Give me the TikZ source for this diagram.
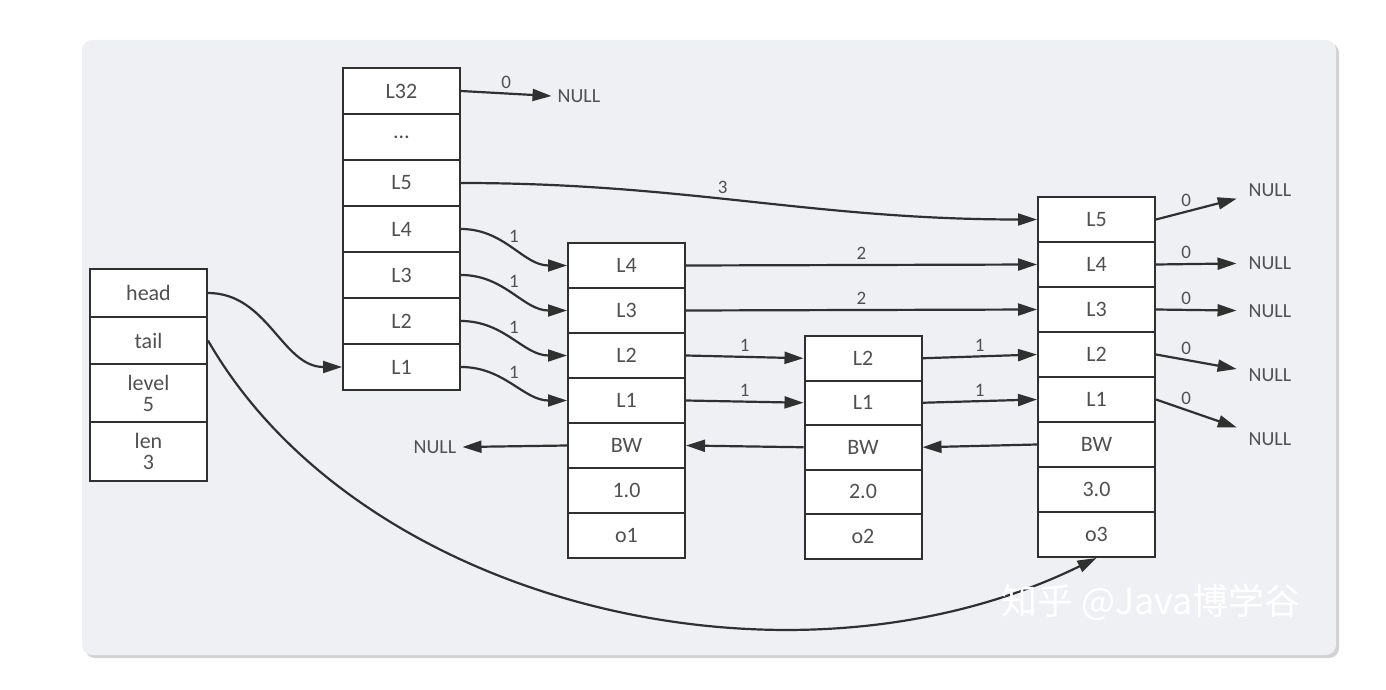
\documentclass[tikz,border=0pt]{standalone}
\usepackage{fontspec}
\setmainfont{Carlito}
\newfontfamily\cjkfont{Noto Sans CJK SC}
\usetikzlibrary{arrows.meta}

\definecolor{panelbg}{RGB}{239,240,244}
\definecolor{linec}{RGB}{48,48,48}
\definecolor{textc}{RGB}{80,80,80}

\tikzset{
  cell/.style={draw=linec, fill=white, line width=2pt, minimum width=117pt,
    minimum height=45pt, inner sep=0pt, text=textc, align=center,
    font=\fontsize{22}{21}\selectfont},
  ptr/.style={draw=linec, line width=2.2pt, -{Triangle[length=19pt,width=12pt]}},
  span/.style={font=\fontsize{19}{20}\selectfont, text=textc, inner sep=4pt},
  nulltxt/.style={font=\fontsize{20}{22}\selectfont, text=textc, inner sep=6pt},
}

\begin{document}
\begin{tikzpicture}[x=1pt, y=-1pt]
\useasboundingbox (0,0) rectangle (1386,690);
\fill[gray!35, rounded corners=10pt] (85,43) rectangle (1339,658);
\fill[panelbg, rounded corners=10pt] (82,40) rectangle (1336,655);

% list header
\node[cell, minimum height=48pt] (head) at (148.5,293) {head};
\node[cell, minimum height=47pt] (tail) at (148.5,340.5) {tail};
\node[cell, minimum height=58pt] (level) at (148.5,393) {level\\5};
\node[cell, minimum height=59pt] (len) at (148.5,451.5) {len\\3};

% header node and the three elements
\foreach \t/\k [count=\i] in {L32/32,{\ldots}/dots,L5/5,L4/4,L3/3,L2/2,L1/1}
  \node[cell, minimum height=46pt] (h\k) at (401.5,45+46*\i) {\t};
\foreach \t/\k [count=\i] in {L4/4,L3/3,L2/2,L1/1,BW/bw,1.0/v,o1/o}
  \node[cell] (n1-\k) at (626.5,220.5+45*\i) {\t};
\foreach \t/\k [count=\i] in {L2/2,L1/1,BW/bw,2.0/v,o2/o}
  \node[cell, minimum height=44.5pt] (n2-\k) at (863,313.75+44.5*\i) {\t};
\foreach \t/\k [count=\i] in {L5/5,L4/4,L3/3,L2/2,L1/1,BW/bw,3.0/v,o3/o}
  \node[cell] (n3-\k) at (1096.5,174.5+45*\i) {\t};

\node[nulltxt] (null32) at (579,96) {NULL};
\node[nulltxt] (nullbw) at (435,447) {NULL};

% forward pointers
\draw[ptr] (h32.east) -- node[span, above] {0} (null32.west);
\draw[ptr] (h5.east) to[out=0, in=180] node[span, above, pos=0.45] {3} (n3-5.west);
\foreach \k in {4,3,2,1}
  \draw[ptr] (h\k.east) to[out=0, in=180] node[span, above] {1} (n1-\k.west);
\draw[ptr] (head.east) to[out=0, in=180] (h1.west);
\draw[ptr] (n1-4.east) -- node[span, above] {2} (n3-4.west);
\draw[ptr] (n1-3.east) -- node[span, above] {2} (n3-3.west);
\foreach \k in {2,1} {
  \draw[ptr] (n1-\k.east) -- node[span, above] {1} (n2-\k.west);
  \draw[ptr] (n2-\k.east) -- node[span, above] {1} (n3-\k.west);
}
\foreach \k/\y in {5/190,4/263,3/311,2/375,1/439} {
  \node[nulltxt] (nl\k) at (1270,\y) {NULL};
  \draw[ptr, shorten >=6pt] (n3-\k.east) -- node[span, above, pos=0.35] {0} (nl\k);
}

% backward pointers
\draw[ptr] (n3-bw.west) -- (n2-bw.east);
\draw[ptr] (n2-bw.west) -- (n1-bw.east);
\draw[ptr] (n1-bw.west) -- (nullbw.east);

\draw[ptr] (tail.east) .. controls (360,605) and (790,708) .. (n3-o.south);

\node[font=\cjkfont\fontsize{36}{38}\selectfont, text=white] (mark) at (1151,602) {知乎 @Java博学谷};
\end{tikzpicture}
\end{document}
